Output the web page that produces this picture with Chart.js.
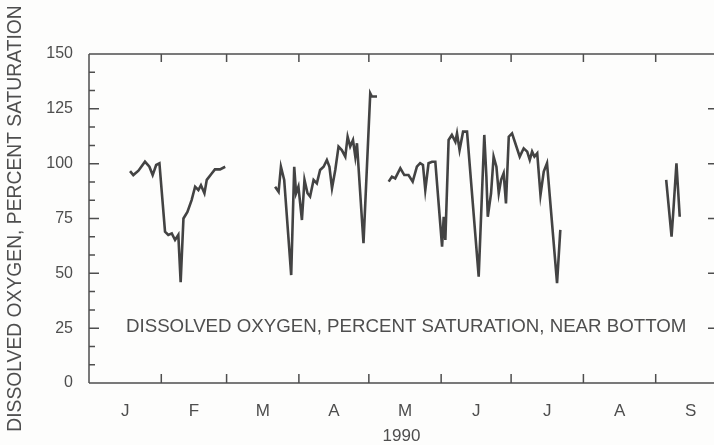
<!DOCTYPE html>
<html>
<head>
<meta charset="utf-8">
<script src="https://cdn.jsdelivr.net/npm/chart.js@4"></script>
<style>
  html, body { margin: 0; padding: 0; background: #fdfdfc; overflow: hidden; }
  #wrap { width: 714px; height: 445px; }
</style>
</head>
<body>
<div id="wrap"><canvas id="doChart" width="714" height="445"></canvas></div>
<script>
// day of year 1990 (0 = Jan 1), null = no record
var days = [
  17.6, 19, 21.2, 24, 25.9, 27.3, 28.8, 30.2, 32.6, 34, 35.5, 36.9, 38.3, 39.3, 40.5, 42.2,
  44, 45.5, 46.9, 48, 49.5, 50.5, 52.7, 54, 56.2, 58.4,
  null,
  79.8, 81.3, 82.3, 83.7, 86.7, 88, 88.8, 89.8, 91.3, 92.4, 93.7, 94.8, 96.3, 97.7, 99.1,
  100.6, 102, 103.1, 104.2, 105.6, 107, 108.4, 109.9, 110.9, 112, 113.2, 114.2, 114.9,
  117.7, 120.6, 121.3, 123.5,
  null,
  128.5, 129.9, 131.3, 133.5, 135.2, 137, 138.8, 140.6, 142, 143.2, 144.2, 145.6, 147.1,
  148.5, 150.6, 151.4, 152.1, 152.8, 154.2, 155.6, 157.1, 157.8, 158.9, 160.4, 162.1,
  167.1, 169.5, 170.4, 171, 172.4, 173.5, 174.7, 175.7, 176.7, 177.8, 178.8, 180, 181.4,
  182.8, 184.7, 186.4, 187.9, 189, 190, 191, 192.2, 193.6, 195, 196.4, 200.7, 202.1,
  null,
  247.5, 249.8, 250.5, 251.9, 253.3
];
var oxygen = [
  96.6, 94.8, 96.8, 100.9, 98.6, 94.8, 99.4, 100.2, 69, 67.5, 68.2, 65.2, 67.5, 46, 75, 78,
  83.4, 89.5, 88, 90.2, 86.5, 92.6, 95.6, 97.4, 97.4, 98.6,
  null,
  89.5, 87.2, 98.6, 92.6, 49.2, 98.6, 86.5, 89.5, 74.3, 92.6, 86.5, 85, 92.6, 91, 97.1,
  98.6, 101.7, 98.6, 88.8, 97.1, 107.8, 106.2, 103.2, 112.3, 107.8, 110.8, 103.2, 109.3,
  63.7, 132.1, 130.6, 130.6,
  null,
  91.8, 94.1, 93.3, 97.9, 94.8, 94.8, 91.8, 98.6, 100.2, 99.4, 88, 100.2, 100.9,
  100.9, 72.8, 62.2, 75.8, 65.2, 110.8, 113.1, 110, 113.8, 106.2, 114.6, 114.6,
  48.5, 113.1, 94.1, 75.8, 86.5, 103.2, 98.6, 86.5, 92.6, 95.6, 81.9, 112.3, 113.8,
  109.3, 103.2, 107, 105.5, 101.7, 105.5, 103.2, 104.7, 85.7, 96.4, 100.2, 45.5, 69.8,
  null,
  92.6, 66.7, 77.4, 100.2, 75.8
];
var monthStarts = [31, 59, 90, 120, 151, 181, 212, 243];
var monthMids = [15.5, 45, 74.5, 105, 135.5, 166, 196.5, 227.5, 258];
var monthLabels = ['J', 'F', 'M', 'A', 'M', 'J', 'J', 'A', 'S'];
var yTicks = [0, 25, 50, 75, 100, 125, 150];
var noteText = 'DISSOLVED OXYGEN, PERCENT SATURATION, NEAR BOTTOM';
var notePos = { x: 136, y: 25.5 };

var ink = '#4e4e4e';
var font = "'Liberation Sans', Arial, Helvetica, sans-serif";

var points = days.map(function (d, i) { return { x: d, y: oxygen[i] }; });

// frame + inward tick marks, like the printed figure
var framePlugin = {
  id: 'frame',
  afterDraw: function (chart) {
    var c = chart.ctx, a = chart.chartArea;
    var xs = chart.scales.x, ys = chart.scales.y;
    c.save();
    c.strokeStyle = ink;
    c.lineWidth = 1.5;
    c.beginPath();
    c.moveTo(a.left, a.top); c.lineTo(a.right, a.top);
    c.moveTo(a.left, a.top); c.lineTo(a.left, a.bottom);
    c.moveTo(a.left, a.bottom); c.lineTo(a.right, a.bottom);
    monthStarts.forEach(function (d) {
      var px = xs.getPixelForValue(d);
      c.moveTo(px, a.bottom); c.lineTo(px, a.bottom - 9);
      c.moveTo(px, a.top); c.lineTo(px, a.top + 8);
    });
    for (var i = 0; i < yTicks.length; i++) {
      var py = ys.getPixelForValue(yTicks[i]);
      c.moveTo(a.left, py); c.lineTo(a.left + 10, py);
      c.moveTo(a.right, py); c.lineTo(a.right - 6, py);
      if (i < yTicks.length - 1) {
        var step = (yTicks[i + 1] - yTicks[i]) / 3;
        for (var k = 1; k < 3; k++) {
          var pm = ys.getPixelForValue(yTicks[i] + step * k);
          c.moveTo(a.left, pm); c.lineTo(a.left + 6, pm);
        }
      }
    }
    c.stroke();
    c.fillStyle = ink;
    c.font = '18.7px ' + font;
    c.textAlign = 'center';
    c.textBaseline = 'middle';
    c.fillText(noteText, xs.getPixelForValue(notePos.x), ys.getPixelForValue(notePos.y));
    c.restore();
  }
};

new Chart(document.getElementById('doChart'), {
  type: 'line',
  data: {
    datasets: [{
      data: points,
      borderColor: '#434343',
      borderWidth: 2.6,
      pointRadius: 0,
      tension: 0,
      spanGaps: false
    }]
  },
  options: {
    responsive: false,
    devicePixelRatio: 1,
    animation: false,
    layout: { padding: { top: 54, right: 0, left: 0, bottom: 0 } },
    plugins: { legend: { display: false }, tooltip: { enabled: false } },
    scales: {
      x: {
        type: 'linear',
        min: 0,
        max: 268,
        afterFit: function (s) { s.height = 62; },
        afterBuildTicks: function (s) {
          s.ticks = monthMids.map(function (v) { return { value: v }; });
        },
        grid: { display: false },
        border: { display: false },
        ticks: {
          autoSkip: false,
          maxRotation: 0,
          padding: 10,
          color: ink,
          font: { family: font, size: 17 },
          callback: function (v) { return monthLabels[monthMids.indexOf(v)]; }
        },
        title: {
          display: true,
          text: '1990',
          color: ink,
          font: { family: font, size: 17, lineHeight: 1 },
          padding: { top: 0, bottom: 0 }
        }
      },
      y: {
        min: 0,
        max: 150,
        afterFit: function (s) { s.width = 89; },
        afterBuildTicks: function (s) {
          s.ticks = yTicks.map(function (v) { return { value: v }; });
        },
        grid: { display: false },
        border: { display: false },
        ticks: {
          padding: 8,
          color: ink,
          font: { family: font, size: 16 }
        },
        title: {
          display: true,
          text: 'DISSOLVED OXYGEN, PERCENT SATURATION',
          color: ink,
          font: { family: font, size: 19.3, lineHeight: 1 },
          padding: { top: 6, bottom: 0 }
        }
      }
    }
  },
  plugins: [framePlugin]
});
</script>
</body>
</html>
